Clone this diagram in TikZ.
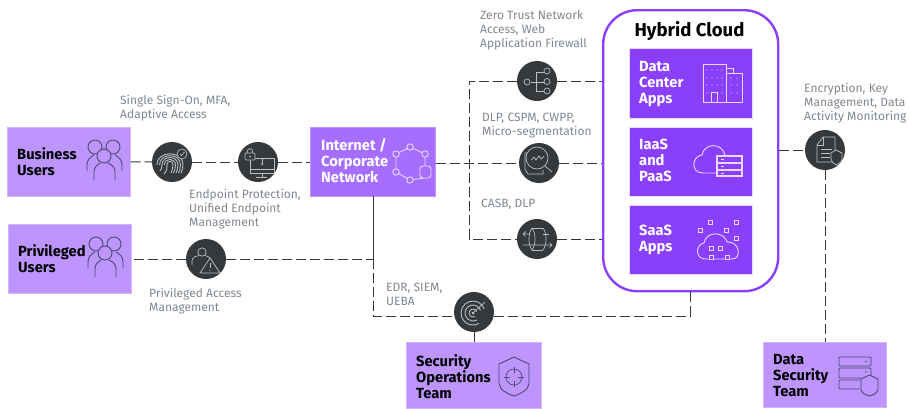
\documentclass[tikz,border=0pt]{standalone}
\usepackage{fontspec}
\setmainfont{Fira Sans}
\definecolor{p40}{HTML}{BE95FF}
\definecolor{p50}{HTML}{A56EFF}
\definecolor{p60}{HTML}{8A3FFC}
\definecolor{dark}{HTML}{36393C}
\definecolor{lab}{HTML}{7F878F}
\definecolor{cicd}{HTML}{4C4A6E}
\definecolor{cicl}{HTML}{E6D8FF}
\definecolor{cicg}{HTML}{BDBFC1}
\tikzset{
 x=1pt,y=-1pt,
 box/.style={rectangle,inner sep=0,anchor=north west},
 lite/.style={box,fill=p40,draw=p40!70!white,line width=.6pt},
 mid/.style={box,fill=p50,draw=p40,line width=.6pt},
 app/.style={box,fill=p60,draw=p60!20!white,line width=.5pt},
 ring/.style={circle,fill=dark,inner sep=0,minimum size=40pt},
 conn/.style={draw=dark,line width=1pt,dash pattern=on 10pt off 4pt},
 solidc/.style={draw=dark,line width=1pt},
 lbl/.style={anchor=north west,inner sep=0,align=left,text=lab,font=\fontsize{12}{14}\selectfont},
 blk/.style={anchor=north west,inner sep=0,align=left,text=black,font=\fontsize{14.7}{16}\selectfont\bfseries},
 wht/.style={anchor=north west,inner sep=0,align=left,text=white,font=\fontsize{14.7}{16}\selectfont\bfseries},
 isg/.style={draw=cicg,line width=.7pt,fill=none},
 isl/.style={draw=cicl,line width=.9pt,fill=none},
 isd/.style={draw=cicd,line width=.9pt,fill=none},
 pics/people/.style={code={
  \draw[isd] (95,147) circle (7);
  \draw[isd] (113,147) circle (7);
  \draw[isd] (87,171) -- (87,165) .. controls (87,160) and (90,157) .. (94,155);
  \draw[isd] (122,171) -- (122,165) .. controls (122,160) and (119,157) .. (115,155);
  \draw[isd,fill=p40] (104,156) circle (7);
  \draw[isd] (94,180) -- (94,172) .. controls (94,167) and (97,165) .. (100,163);
  \draw[isd] (115,180) -- (115,172) .. controls (115,167) and (112,165) .. (108,163);
 }},
}
\begin{document}
\begin{tikzpicture}
\useasboundingbox (0,0) rectangle (909,408);
% boxes
\node[lite,minimum width=123pt,minimum height=69pt] (bu) at (7,127) {};
\node[lite,minimum width=123pt,minimum height=69pt] (pu) at (8,224) {};
\node[mid,minimum width=125pt,minimum height=69pt] (net) at (310,127) {};
\node[box,draw=p60,line width=2.4pt,fill=white,rounded corners=34pt,minimum width=175pt,minimum height=281pt] (hy) at (602,9) {};
\node[app,minimum width=123pt,minimum height=70pt] (dc) at (629,48) {};
\node[app,minimum width=123pt,minimum height=69pt] (ia) at (629,127) {};
\node[app,minimum width=123pt,minimum height=69pt] (sa) at (629,205) {};
\node[lite,minimum width=135pt,minimum height=66pt] (so) at (406,342) {};
\node[lite,minimum width=123pt,minimum height=65pt] (ds) at (763,342) {};
% rings
\node[ring] (fp) at (172,162) {};
\node[ring] (ep) at (258,162) {};
\node[ring] (pa) at (206,259) {};
\node[ring] (zt) at (537,81) {};
\node[ring] (dl) at (539,163) {};
\node[ring] (cb) at (537,239) {};
\node[ring] (en) at (825,150) {};
\node[ring] (ed) at (474,312) {};
% junctions
\coordinate (ntop) at (373,196);
\coordinate (j1) at (373,259);
\coordinate (c1) at (373,316);
\coordinate (c2) at (690,316);
\coordinate (hb) at (690,290);
\coordinate (t1) at (469,81);
\coordinate (t3) at (469,239);
\coordinate (edr) at (454,316);
\coordinate (edl) at (494,316);
% connectors
\draw[conn] (bu.east) -- (fp.west);
\draw[conn] (fp.east) -- (ep.west);
\draw[conn] (ep.east) -- (net.west |- ep.east);
\draw[conn] (pa.west) -- (pu.east |- pa.west);
\draw[conn] (pa.east) -- (j1);
\draw[solidc] (ntop) -- (j1);
\draw[conn] (j1) -- (c1) -- (edr);
\draw[conn] (edl) -- (c2) -- (hb);
\draw[solidc] (ed.south) -- (ed.south |- so.north);
\draw[conn] (net.east |- dl.west) -- (dl.west);
\draw[conn] (dl.east) -- (hy.west |- dl.east);
\draw[conn] (zt.west) -- (t1) -- (t3) -- (cb.west);
\draw[conn] (zt.east) -- (hy.west |- zt.east);
\draw[conn] (cb.east) -- (hy.west |- cb.east);
\draw[conn] (hy.east |- en.west) -- (en.west);
\draw[conn] (en.south) -- (en.south |- ds.north);
% texts
\node[blk] (t-bu) at (17,147) {Business\\Users};
\node[blk] (t-pu) at (18,244) {Privileged\\Users};
\node[wht] (t-net) at (321,138.5) {Internet /\\Corporate\\Network};
\node[anchor=north,inner sep=0,font=\fontsize{18.6}{22}\selectfont\bfseries] (t-hy) at (689.5,21) {Hybrid Cloud};
\node[wht] (t-dc) at (639,61) {Data\\Center\\Apps};
\node[wht] (t-ia) at (639,138.5) {IaaS\\and\\PaaS};
\node[wht] (t-sa) at (639,225) {SaaS\\Apps};
\node[blk] (t-so) at (416,354) {Security\\Operations\\Team};
\node[blk] (t-ds) at (773,354) {Data\\Security\\Team};
\node[lbl] (l1) at (120,95) {Single Sign-On, MFA,\\Adaptive Access};
\node[lbl] (l2) at (189,189) {Endpoint Protection,\\Unified Endpoint\\Management};
\node[lbl] (l3) at (149,288) {Privileged Access\\Management};
\node[lbl] (l4) at (480,10) {Zero Trust Network\\Access, Web\\Application Firewall};
\node[lbl] (l5) at (482,113) {DLP, CSPM, CWPP,\\Micro-segmentation};
\node[lbl] (l6) at (481,199) {CASB, DLP};
\node[lbl] (l7) at (386,283) {EDR, SIEM,\\UEBA};
\node[lbl] (l8) at (804,83) {Encryption, Key\\Management, Data\\Activity Monitoring};
% people icons
\pic at (0,0) {people};
\pic at (1,97) {people};
% internet icon
\draw[isl] (396,154) -- (410,147) -- (425,154) -- (425,166) (425,178) -- (410,180) -- (396,172) -- (396,154);
\foreach \x/\y in {410/147,425/154,410/180,396/172,396/154} \draw[isl,fill=p50] (\x,\y) circle (3.2);
\draw[isl,fill=p50,rounded corners=3pt] (420,166) rectangle (431,178);
% data center icon
\draw[isl,line width=.6pt] (703,64) rectangle (726,102) (726,73) rectangle (742,102) (726,68) -- (733,68) -- (733,73) (711,102) -- (711,92) -- (717,92) -- (717,102);
\foreach \y in {70,78,85} \foreach \x in {707,712,717,722} \fill[cicl] (\x,\y) circle (.6);
\foreach \x in {707,722} \fill[cicl] (\x,93) circle (.6);
\foreach \y in {78,85,93} \foreach \x in {731,737} \fill[cicl] (\x,\y) circle (.6);
% IaaS icon
\draw[isl] (717,173) -- (703,173) .. controls (690,173) and (692,156) .. (702,155) .. controls (704,143) and (722,142) .. (725,155);
\draw[isl,line width=1.1pt,fill=p60] (717,156) rectangle (742,176) (717,163) -- (742,163) (717,170) -- (742,170);
\foreach \y in {159.5,166.5,173} \draw[isl,line width=.7pt] (721,\y) -- (724,\y);
% SaaS icon
\draw[isl] (706,259) .. controls (694,259) and (696,244) .. (704,243) .. controls (706,231) and (724,231) .. (727,242) .. controls (740,241) and (742,259) .. (732,259) -- cycle;
\foreach \x/\y in {710.7/222.7,736/222.7,700/230.7,726.7/230.7,736/238,711.7/248,720/248,711.7/257,727/257}
  \draw[isl,fill=p60,line width=.8pt] (\x-2,\y-2) rectangle (\x+2,\y+2);
% secops icon
\draw[isd] (514,357) -- (529,364) -- (529,383) .. controls (529,390) and (520,394) .. (514,396) .. controls (508,394) and (499,390) .. (499,383) -- (499,364) -- cycle;
\draw[isd,line width=.7pt] (514,377) circle (8);
\draw[isd,line width=.7pt] (514,367) -- (514,373) (514,381) -- (514,387) (504,377) -- (510,377) (518,377) -- (524,377);
% data security icon
\draw[isd,rounded corners=1pt] (839,357) rectangle (871,366);
\draw[isd,rounded corners=1pt] (871,375) -- (871,368) -- (839,368) -- (839,378) -- (861,378);
\draw[isd,rounded corners=1pt] (860,380) -- (839,380) -- (839,389) -- (860,389);
\fill[cicd] (866,361.5) circle (.9) (866,372) circle (.9);
\draw[isd,fill=p40] (869.5,375) -- (878,379) -- (878,389) .. controls (878,393) and (873,395) .. (869.5,396) .. controls (866,395) and (861,393) .. (861,389) -- (861,379) -- cycle;
% fingerprint icon
\begin{scope}[shift={(170,163)}]
\foreach \r in {3,5.5,8,10.5,13} \draw[isg,line width=.9pt] (-\r,2) .. controls (-\r,-\r) and (\r,-\r) .. (\r,2) .. controls (\r,5) and (\r-1,8) .. (\r-2,10);
\draw[isg,line width=.9pt] (-3,2) .. controls (-3,7) and (-4,9) .. (-6,11) (-8,2) .. controls (-8,5) and (-9,7) .. (-10,8);
\draw[isg,fill=dark] (12,-9) circle (5);
\draw[isg] (9.8,-9) -- (11.5,-7.3) -- (14.5,-11);
\end{scope}
% endpoint icon
\begin{scope}[shift={(258,162)}]
\draw[isg] (-8,-4) -- (-8,11) -- (16,11) -- (16,-4) -- (-3,-4);
\draw[isg] (-8,7) -- (16,7) (4,11) -- (4,15) (-2,15) -- (9,15) (4,-4) -- (4,2);
\draw[isg,fill=dark,rounded corners=1pt] (-13,-9) rectangle (-3,-2);
\draw[isg] (-11,-9) .. controls (-11,-15) and (-5,-15) .. (-5,-9);
\fill[cicg] (-8,-5.5) circle (1);
\fill[cicg] (4,2) circle (1);
\end{scope}
% privileged access icon
\begin{scope}[shift={(206,259)}]
\draw[isg] (-4,-7) circle (4.2);
\draw[isg] (-14,6) -- (-14,2) .. controls (-14,-2) and (-10,-3) .. (-7,-3.5) (-1,-3.5) .. controls (1,-3) and (3,-2) .. (4,-1);
\draw[isg] (4,-1) -- (14,14) -- (-6,14) -- cycle;
\draw[isg] (4,4) -- (4,9);
\fill[cicg] (4,11.5) circle (.7);
\end{scope}
% zero trust icon
\begin{scope}[shift={(537,81)}]
\draw[isg] (-6.5,1) -- (-1,1) (-1,-9) -- (-1,10) -- (7,10) (-1,-9) -- (7,-9) (-1,1) -- (7,1);
\foreach \x/\y in {-10/1,10/-10,10/0.5,10/10} \draw[isg,fill=dark] (\x,\y) circle (3);
\end{scope}
% DLP icon
\begin{scope}[shift={(539,163)}]
\draw[isg] (-7,-10) -- (-14,-10) -- (-14,6) -- (-11,11) -- (-3,11) (-3,11) -- (4,11) -- (4,7);
\draw[isg,fill=dark] (-2,-5) circle (11);
\draw[isg] (6,3) -- (13,9);
\draw[isg] (-8,-3) -- (-5,-6) -- (-3,-3) -- (0,-7) -- (2,-4) -- (5,-7);
\end{scope}
% CASB icon
\begin{scope}[shift={(537,239)}]
\draw[isg] (-5,-11) -- (6,-11) (-5,11) -- (6,11);
\draw[isg] (-5,-11) .. controls (-9,-6) and (-9,6) .. (-5,11);
\draw[isg] (-5,-11) .. controls (-1,-6) and (-1,6) .. (-5,11);
\draw[isg] (6,-11) .. controls (10,-6) and (10,6) .. (6,11);
\draw[isg] (-14,-5) -- (-7,-5) (-14,-5) -- (-11.5,-7.5) (-14,-5) -- (-11.5,-2.5);
\draw[isg] (-14,6) -- (15,6) (15,6) -- (12.5,3.5) (15,6) -- (12.5,8.5);
\draw[isg] (6,-5) -- (12,-5);
\end{scope}
% encryption icon
\begin{scope}[shift={(825,150)}]
\draw[isg] (-8,-5) -- (-8,12) -- (7,12) (-8,-5) -- (-2,-13) -- (10,-13) -- (10,0);
\draw[isg] (-2,-13) -- (-2,-5) -- (-8,-5);
\draw[isg] (-4,-1) -- (7,-1) (-4,3) -- (5,3) (-4,7) -- (5,7);
\draw[isg,fill=dark] (11,0) -- (17,3) -- (17,9) .. controls (17,12) and (13,14) .. (11,15) .. controls (9,14) and (6,12) .. (6,9) -- (6,3) -- cycle;
\end{scope}
% EDR icon
\begin{scope}[shift={(473,313)}]
\foreach \r in {4,8,12} \draw[isg,line width=.9pt] (0,0) ++(-20:\r) arc[start angle=-20,end angle=-300,radius=\r];
\fill[cicg] (0,0) circle (1.5);
\draw[isg] (0,0) -- (12,-11);
\end{scope}
\end{tikzpicture}
\end{document}
